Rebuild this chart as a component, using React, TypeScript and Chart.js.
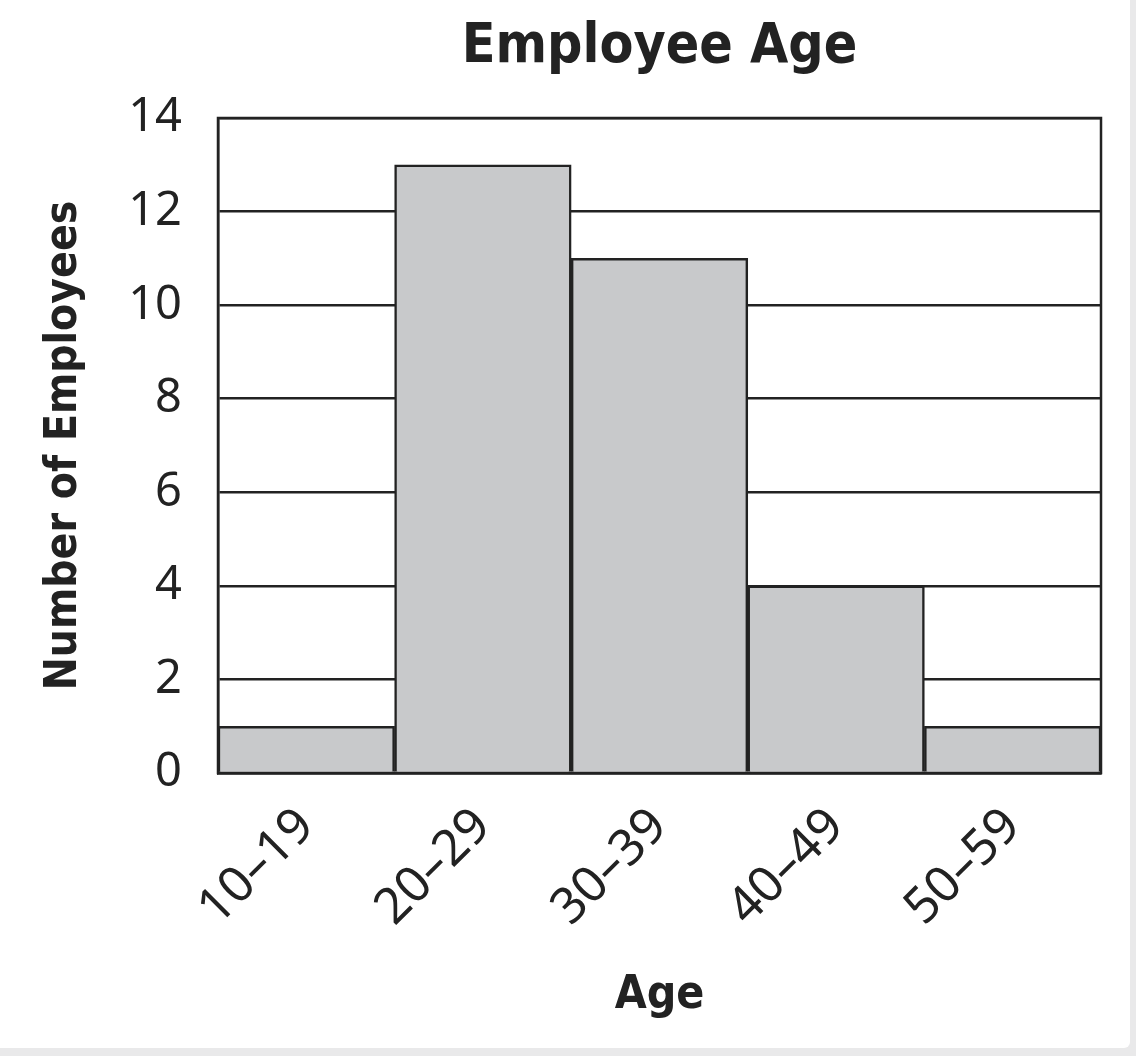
import React, { useEffect, useRef } from "react";
import { Chart, registerables } from "chart.js";

Chart.register(...registerables);

const categories = ["10–19", "20–29", "30–39", "40–49", "50–59"];
const employeeCounts = [1, 13, 11, 4, 1];
const yMin = 0;
const yMax = 14;
const yStep = 2;
const chartTitle = "Employee Age";
const xTitle = "Age";
const yTitle = "Number of Employees";

const condensed = '"Liberation Sans Narrow", "DejaVu Sans Condensed", "Open Sans", sans-serif';
const regular = '"Noto Sans", "Open Sans", sans-serif';

const frameBorder = {
  id: "frameBorder",
  afterDatasetsDraw(chart: any) {
    const { ctx, chartArea } = chart;
    ctx.save();
    ctx.strokeStyle = "#222";
    ctx.lineWidth = 2.5;
    ctx.strokeRect(chartArea.left, chartArea.top, chartArea.right - chartArea.left, chartArea.bottom - chartArea.top);
    ctx.restore();
  },
};

export default function App() {
  const ref = useRef<HTMLCanvasElement>(null);
  useEffect(() => {
    document.body.style.margin = "0";
    const chart = new Chart(ref.current!, {
      type: "bar",
      data: {
        labels: categories,
        datasets: [
          {
            data: employeeCounts,
            backgroundColor: "#c8c9cb",
            borderColor: "#222",
            borderWidth: 2.5,
            barPercentage: 1,
            categoryPercentage: 1,
          },
        ],
      },
      options: {
        animation: false,
        responsive: false,
        maintainAspectRatio: false,
        layout: { padding: { left: 38, right: 29, top: 0, bottom: 10 } },
        plugins: {
          legend: { display: false },
          tooltip: { enabled: false },
          title: {
            display: true,
            fullSize: false,
            text: chartTitle,
            color: "#222",
            font: { family: condensed, size: 55, weight: "bold" },
            padding: { top: 15, bottom: 37 },
          },
        },
        scales: {
          x: {
            grid: { display: false },
            border: { display: true, color: "#222", width: 2.5 },
            ticks: {
              color: "#222",
              minRotation: 45,
              maxRotation: 45,
              padding: 16,
              font: { family: regular, size: 50 },
            },
            title: {
              display: true,
              text: xTitle,
              color: "#222",
              font: { family: condensed, size: 46, weight: "bold" },
              padding: { top: 4, bottom: 14 },
            },
            afterFit(scale: any) {
              scale.height = 1048 - 773 - 10;
            },
          },
          y: {
            min: yMin,
            max: yMax,
            grid: { color: "#222", lineWidth: 2.5, tickLength: 0 },
            border: { display: true, color: "#222", width: 2.5 },
            ticks: {
              stepSize: yStep,
              color: "#222",
              padding: 36,
              font: { family: regular, size: 47 },
            },
            title: {
              display: true,
              text: yTitle,
              color: "#222",
              font: { family: condensed, size: 44, weight: "bold" },
              padding: { top: 0, bottom: 0 },
            },
            afterFit(scale: any) {
              scale.width = 218 - 38;
            },
          },
        },
      },
      plugins: [frameBorder],
    });
    return () => chart.destroy();
  }, []);
  return (
    <div style={{ position: "relative", width: 1136, height: 1056, background: "#e9e9ea" }}>
      <div style={{ position: "absolute", left: 0, top: 0, width: 1130, height: 1048, background: "#fff", borderBottomRightRadius: 6 }}>
        <canvas ref={ref} width={1130} height={1048} />
      </div>
    </div>
  );
}
